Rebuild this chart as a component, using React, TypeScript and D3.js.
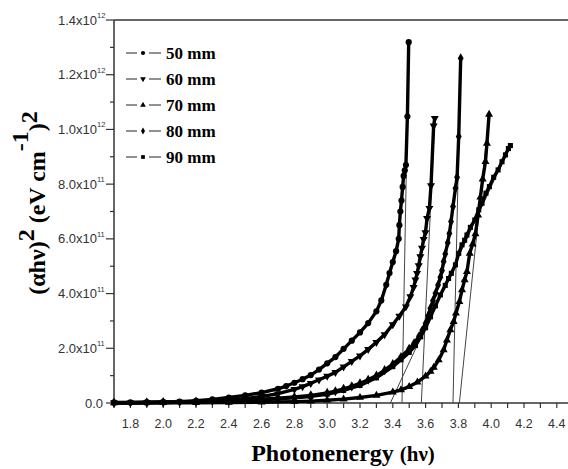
import React from "react";
import * as d3 from "d3";

// values in units of 1e11 (eV cm^-1)^2
const energy50 = [1.7, 1.8, 1.9, 2.0, 2.1, 2.2, 2.3, 2.4, 2.5, 2.6, 2.7, 2.75, 2.8, 2.85, 2.9, 2.95, 3.0, 3.05, 3.1, 3.15, 3.2, 3.25, 3.3, 3.33, 3.36, 3.38, 3.4, 3.42, 3.436, 3.44, 3.446, 3.453, 3.46, 3.466, 3.473, 3.48, 3.489, 3.497];
const value50 = [0.02, 0.02, 0.03, 0.04, 0.05, 0.08, 0.13, 0.2, 0.28, 0.38, 0.52, 0.62, 0.74, 0.87, 1.02, 1.22, 1.45, 1.68, 1.98, 2.28, 2.58, 2.92, 3.35, 3.75, 4.32, 4.75, 5.15, 5.55, 6.0, 6.5, 7.0, 7.4, 7.9, 8.3, 8.5, 8.7, 10.47, 13.19];

const energy60 = [1.7, 1.8, 1.9, 2.0, 2.1, 2.2, 2.3, 2.4, 2.5, 2.6, 2.7, 2.8, 2.85, 2.9, 2.95, 3.0, 3.05, 3.1, 3.15, 3.2, 3.25, 3.3, 3.35, 3.4, 3.44, 3.48, 3.507, 3.527, 3.538, 3.548, 3.558, 3.568, 3.578, 3.588, 3.599, 3.609, 3.623, 3.633, 3.649, 3.656];
const value60 = [0.01, 0.01, 0.02, 0.02, 0.03, 0.05, 0.07, 0.11, 0.16, 0.24, 0.34, 0.5, 0.6, 0.72, 0.85, 0.98, 1.12, 1.32, 1.52, 1.72, 1.96, 2.22, 2.5, 2.87, 3.18, 3.52, 3.89, 4.23, 4.5, 4.74, 5.02, 5.35, 5.66, 5.98, 6.23, 6.75, 7.12, 7.95, 10.13, 10.41];

const energy70 = [1.7, 2.0, 2.2, 2.4, 2.6, 2.8, 2.9, 3.0, 3.1, 3.2, 3.3, 3.4, 3.45, 3.5, 3.55, 3.6, 3.63, 3.65, 3.68, 3.71, 3.73, 3.751, 3.771, 3.785, 3.806, 3.822, 3.838, 3.852, 3.869, 3.887, 3.904, 3.92, 3.934, 3.948, 3.965, 3.974, 3.987];
const value70 = [0.0, 0.01, 0.01, 0.02, 0.03, 0.05, 0.07, 0.1, 0.14, 0.2, 0.28, 0.4, 0.48, 0.6, 0.76, 0.98, 1.15, 1.3, 1.57, 1.94, 2.3, 2.67, 2.97, 3.28, 3.7, 4.13, 4.5, 4.8, 5.47, 5.81, 6.18, 6.87, 7.52, 8.18, 8.82, 9.49, 10.55];

const energy80 = [1.7, 1.9, 2.0, 2.2, 2.4, 2.6, 2.7, 2.8, 2.9, 3.0, 3.05, 3.1, 3.15, 3.2, 3.25, 3.3, 3.35, 3.4, 3.45, 3.5, 3.53, 3.56, 3.58, 3.6, 3.615, 3.629, 3.645, 3.66, 3.676, 3.69, 3.7, 3.71, 3.72, 3.735, 3.745, 3.755, 3.767, 3.782, 3.792, 3.802, 3.814];
const value80 = [0.01, 0.02, 0.03, 0.05, 0.08, 0.14, 0.18, 0.22, 0.28, 0.37, 0.43, 0.52, 0.61, 0.72, 0.85, 1.0, 1.2, 1.42, 1.68, 1.98, 2.18, 2.44, 2.66, 2.91, 3.18, 3.46, 3.74, 4.01, 4.31, 4.6, 4.84, 5.17, 5.45, 5.86, 6.2, 6.63, 7.18, 7.85, 8.25, 9.74, 12.6];

const energy90 = [1.7, 1.9, 2.0, 2.2, 2.4, 2.6, 2.7, 2.8, 2.9, 3.0, 3.1, 3.2, 3.3, 3.4, 3.45, 3.5, 3.538, 3.57, 3.6, 3.63, 3.66, 3.69, 3.72, 3.74, 3.757, 3.782, 3.802, 3.822, 3.838, 3.852, 3.873, 3.9, 3.924, 3.944, 3.968, 3.989, 4.015, 4.042, 4.066, 4.087, 4.105, 4.117];
const value90 = [0.01, 0.01, 0.02, 0.04, 0.07, 0.12, 0.15, 0.19, 0.24, 0.32, 0.46, 0.64, 0.92, 1.33, 1.58, 1.85, 2.1, 2.42, 2.75, 3.15, 3.55, 3.95, 4.3, 4.55, 4.74, 5.05, 5.47, 5.78, 5.95, 6.14, 6.42, 6.69, 7.06, 7.3, 7.67, 7.91, 8.25, 8.52, 8.82, 9.07, 9.3, 9.41];

// Tauc extrapolation lines: [energy at zero, energy at top, value at top]
const tangent50 = [3.456, 3.497, 13.19];
const tangent60 = [3.574, 3.656, 10.41];
const tangent70 = [3.806, 3.987, 10.55];
const tangent80 = [3.767, 3.814, 12.6];
const tangent90 = [3.385, 4.117, 9.41];

const labels = ["50 mm", "60 mm", "70 mm", "80 mm", "90 mm"];
const xTickValues = [1.8, 2.0, 2.2, 2.4, 2.6, 2.8, 3.0, 3.2, 3.4, 3.6, 3.8, 4.0, 4.2, 4.4];
const yTickValues = [0, 2e11, 4e11, 6e11, 8e11, 1e12, 1.2e12, 1.4e12];

const UNIT = 1e11;
const width = 568;
const height = 469;
const margin = { top: 20, left: 114, bottom: 403 };

const series = [
  { label: labels[0], energy: energy50, value: value50, tangent: tangent50, type: d3.symbolCircle, size: 30, rot: 0 },
  { label: labels[1], energy: energy60, value: value60, tangent: tangent60, type: d3.symbolTriangle, size: 28, rot: 180 },
  { label: labels[2], energy: energy70, value: value70, tangent: tangent70, type: d3.symbolTriangle, size: 28, rot: 0 },
  { label: labels[3], energy: energy80, value: value80, tangent: tangent80, type: d3.symbolDiamond, size: 30, rot: 0 },
  { label: labels[4], energy: energy90, value: value90, tangent: tangent90, type: d3.symbolSquare, size: 26, rot: 0 },
];

function tickLabel(v: number) {
  if (v === 0) return { mant: "0.0", exp: "" };
  const e = Math.floor(Math.log10(v) + 1e-9);
  const m = v / Math.pow(10, e);
  return { mant: m.toFixed(1) + "x10", exp: String(e) };
}

const sans = "'Liberation Sans', Arial, sans-serif";
const serif = "'Liberation Serif', 'Times New Roman', serif";

export default function App() {
  const x = d3.scaleLinear().domain([1.7, 4.5]).range([margin.left, margin.left + 2.8 * 164]);
  const y = d3.scaleLinear().domain([0, 1.4e12]).range([margin.bottom, margin.top]);
  const line = d3.line<[number, number]>().x((d) => x(d[0])).y((d) => y(d[1] * UNIT));

  const xMinor = d3.range(17, 46).map((d) => d / 10);
  const yMinor = d3.range(1, 14, 2).map((d) => d * 1e11);
  const axisColor = "#333";

  return (
    <svg width={width} height={height} style={{ position: "absolute", left: 0, top: 0, background: "#fff" }}>
      {/* frame */}
      <line x1={margin.left} x2={width} y1={margin.top} y2={margin.top} stroke={axisColor} strokeWidth={1.5} />
      <line x1={margin.left} x2={width} y1={margin.bottom} y2={margin.bottom} stroke={axisColor} strokeWidth={1.5} />
      <line x1={margin.left} x2={margin.left} y1={margin.top} y2={margin.bottom} stroke={axisColor} strokeWidth={1.5} />

      {/* x ticks */}
      {xMinor.map((t) => (
        <line key={"xm" + t} x1={x(t)} x2={x(t)} y1={margin.bottom} y2={margin.bottom + 5} stroke={axisColor} strokeWidth={1.2} />
      ))}
      {xTickValues.map((t) => (
        <text key={"xt" + t} x={x(t)} y={428} textAnchor="middle" fontFamily={sans} fontSize={12.5} fill="#333">
          {t.toFixed(1)}
        </text>
      ))}

      {/* y ticks */}
      {yTickValues.map((t) => {
        const lab = tickLabel(t);
        return (
          <g key={"yt" + t}>
            <line x1={margin.left - 8} x2={margin.left} y1={y(t)} y2={y(t)} stroke={axisColor} strokeWidth={1.2} />
            <text x={lab.exp ? 97 : 103} y={y(t) + 4.5} textAnchor="end" fontFamily={sans} fontSize={13} fill="#333">
              {lab.mant}
            </text>
            {lab.exp && (
              <text x={97} y={y(t) - 2} fontFamily={sans} fontSize={7.5} fill="#333">
                {lab.exp}
              </text>
            )}
          </g>
        );
      })}
      {yMinor.map((t) => (
        <line key={"ym" + t} x1={margin.left - 4} x2={margin.left} y1={y(t)} y2={y(t)} stroke={axisColor} strokeWidth={1.2} />
      ))}

      {/* tangent lines */}
      {series.map((s) => (
        <line key={"tan" + s.label} x1={x(s.tangent[0])} y1={y(0)} x2={x(s.tangent[1])} y2={y(s.tangent[2] * UNIT)} stroke="#444" strokeWidth={1} />
      ))}

      {/* curves */}
      {series.map((s) => {
        const pts = s.energy.map((e, i) => [e, s.value[i]] as [number, number]);
        const sym = d3.symbol().type(s.type).size(s.size)() as string;
        return (
          <g key={"s" + s.label}>
            <path d={line(pts) as string} fill="none" stroke="#000" strokeWidth={3.4} strokeLinejoin="round" />
            {pts.map((p, i) => (
              <path key={i} d={sym} transform={`translate(${x(p[0])},${y(p[1] * UNIT)}) rotate(${s.rot})`} fill="#000" />
            ))}
          </g>
        );
      })}

      {/* legend */}
      {series.map((s, i) => {
        const ly = 53 + i * 26;
        const sym = d3.symbol().type(s.type).size(14)() as string;
        return (
          <g key={"lg" + s.label}>
            <line x1={126} x2={137} y1={ly} y2={ly} stroke="#222" strokeWidth={1} />
            <line x1={149} x2={161} y1={ly} y2={ly} stroke="#222" strokeWidth={1} />
            <path d={sym} transform={`translate(143,${ly}) rotate(${s.rot})`} fill="#000" />
            <text x={166} y={ly + 6} fontFamily={serif} fontWeight="bold" fontSize={17} fill="#000">
              {s.label}
            </text>
          </g>
        );
      })}

      {/* axis titles */}
      <text x={343} y={461} textAnchor="middle" fontFamily={serif} fontWeight="bold" fill="#000">
        <tspan fontSize={24}>Photonenergy </tspan>
        <tspan fontSize={21}>(hν)</tspan>
      </text>
      <text transform="translate(45,203) rotate(-90)" textAnchor="middle" fontFamily={serif} fontWeight="bold" fontSize={24} fill="#000">
        <tspan>(αhν)</tspan>
        <tspan dy={-11}>2</tspan>
        <tspan dy={11}> (eV cm</tspan>
        <tspan dy={-17}>-1</tspan>
        <tspan dy={17}>)</tspan>
        <tspan dy={-8}>2</tspan>
      </text>
    </svg>
  );
}
